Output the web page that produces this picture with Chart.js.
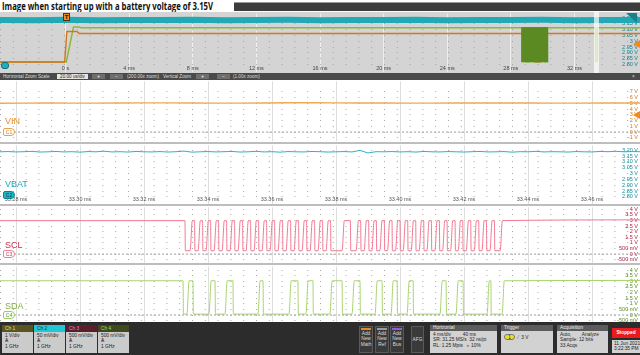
<!DOCTYPE html>
<html><head><meta charset="utf-8">
<script src="https://cdn.jsdelivr.net/npm/chart.js@4.4.1/dist/chart.umd.min.js"></script>
<style>
*{box-sizing:border-box}
html,body{margin:0;padding:0}
body{width:640px;height:355px;overflow:hidden;background:#fff;position:relative;font-family:"Liberation Sans",Arial,sans-serif}
.a{position:absolute}
canvas{position:absolute;left:0;display:block}
#title{left:0;top:0;width:233px;height:12px;background:#fff}
#titleText{position:absolute;left:2px;top:-1px;font:700 10.5px "Open Sans",sans-serif;color:#111;white-space:nowrap;transform-origin:0 0}
#topbar{left:234px;top:2px;width:406px;height:9px;background:#3d3d3d;border-top:1px solid #9a9a9a}
#ov{top:12px;background:#d4d4d4}
#zbar{left:0;top:73px;width:640px;height:7px;background:#4a4a4a;color:#ddd;font-size:4.6px;line-height:7px}
#zbar span{position:absolute;top:0;white-space:nowrap}
#zbar .zb{top:1px;height:5px;line-height:5px;text-align:center;background:#6e6e6e;color:#fff}
.sep{left:0;width:640px;height:2px;background:#bdbdbd}
.lbl{font:9px "Liberation Sans",Arial,sans-serif;white-space:nowrap}
.gnd{position:absolute;left:3px;width:12px;height:8px;border:1px solid;border-radius:2px 4px 4px 2px;font:5px "Liberation Sans",Arial,sans-serif;line-height:6px;text-align:center;background:#fff}
#bot{left:0;top:322px;width:640px;height:33px;background:#2c2c2c;font-size:4.8px;line-height:5.4px}
.ch{position:absolute;top:3px;width:31px;height:28px;background:#cbcbcb;color:#222}
.ch .h{height:7px;padding-left:3px;line-height:7px}
.ch .b{padding-left:3px;padding-top:1px}
.btn{position:absolute;top:4px;width:14px;height:27px;background:#3a3a3a;border:1px solid #5a5a5a;color:#ddd;text-align:center;padding-top:4px}
.btn i{position:absolute;left:1px;right:1px;top:1px;height:2px}
.box{position:absolute;top:3px;height:28px;background:#d2d2d2;color:#222}
.box .h{height:6px;background:#5c5c5c;color:#eee;padding-left:3px;line-height:6px}
.box .b{padding:1px 3px;white-space:nowrap}
</style></head><body>

<div id="title" class="a"><span id="titleText">Image when starting up with a battery voltage of 3.15V</span></div>
<div id="topbar" class="a"></div>

<canvas id="ov" width="640" height="61"></canvas>
<div class="a" style="left:594px;top:12px;width:5px;height:61px;background:rgba(255,255,255,0.7)"></div>
<div class="a" style="left:63px;top:13px;width:7px;height:8px;background:#e8902a;border:1px solid #553300;font:700 6px 'Liberation Sans';line-height:6px;text-align:center;color:#221100">T</div>
<div class="a" style="left:1px;top:62px;width:8px;height:7px;border-radius:3px;background:#1fb0c0;border:1px solid #0c6f7a"></div>
<div class="a" style="left:626px;top:13px;width:0;height:0;border-top:10px solid #1b7f8c;border-left:11px solid transparent"></div>
<div class="a" style="left:633px;top:40px;width:0;height:0;border-right:7px solid #f08a1e;border-top:4px solid transparent;border-bottom:4px solid transparent"></div>

<div id="zbar" class="a">
  <span style="left:3px">Horizontal Zoom Scale</span>
  <span style="left:57px;top:1px;height:5px;line-height:5px;width:31px;background:#e4e4e4;color:#222;text-align:center">20.00 us/div</span>
  <span class="zb" style="left:92px;width:13px">+</span>
  <span class="zb" style="left:110px;width:13px">−</span>
  <span style="left:127px">(200.00x zoom)</span>
  <span style="left:163px">Vertical Zoom</span>
  <span class="zb" style="left:196px;width:13px">+</span>
  <span class="zb" style="left:217px;width:13px">−</span>
  <span style="left:233px">(1.00x zoom)</span>
  <span style="left:632px">×</span>
</div>

<canvas id="vin" width="640" height="62" style="top:80px"></canvas>
<div class="a sep" style="top:142px"></div>
<canvas id="vbat" width="640" height="61" style="top:144px"></canvas>
<div class="a sep" style="top:204px"></div>
<canvas id="scl" width="640" height="58" style="top:206px"></canvas>
<div class="a sep" style="top:263px"></div>
<canvas id="sda" width="640" height="58" style="top:265px"></canvas>

<div class="a" style="left:633px;top:111px;width:0;height:0;border-right:7px solid #f08a1e;border-top:4px solid transparent;border-bottom:4px solid transparent"></div>

<div class="a lbl" style="left:5px;top:116px;color:#e8902a">VIN</div>
<div class="gnd" style="top:128px;border-color:#e8a050;color:#d07818">C1</div>
<div class="a lbl" style="left:5px;top:179px;color:#1fa8b8">VBAT</div>
<div class="gnd" style="top:191px;border-color:#0f7f8c;background:#1fb8c8;color:#033">C2</div>
<div class="a lbl" style="left:5px;top:240px;color:#c8304c">SCL</div>
<div class="gnd" style="top:250px;border-color:#e88098;color:#c8304c">C3</div>
<div class="a lbl" style="left:5px;top:301px;color:#7cb23a">SDA</div>
<div class="gnd" style="top:311px;border-color:#9ccc60;color:#5a8a20">C4</div>

<div id="bot" class="a">
  <div class="ch" style="left:2px"><div class="h" style="background:#5a5420;color:#f0e070">Ch 1</div><div class="b">1 V/div<br>Ѧ<br>1 GHz</div></div>
  <div class="ch" style="left:34px"><div class="h" style="background:#22c6d6;color:#063c44">Ch 2</div><div class="b">50 mV/div<br>Ѧ<br>1 GHz</div></div>
  <div class="ch" style="left:66px"><div class="h" style="background:#5a1e2c;color:#f090a0">Ch 3</div><div class="b">500 mV/div<br>Ѧ<br>1 GHz</div></div>
  <div class="ch" style="left:98px"><div class="h" style="background:#3c4a1e;color:#a8d860">Ch 4</div><div class="b">500 mV/div<br>Ѧ<br>1 GHz</div></div>
  <div class="btn" style="left:359px"><i style="background:#e08a30"></i>Add<br>New<br>Math</div>
  <div class="btn" style="left:375px"><i style="background:#9a9a9a"></i>Add<br>New<br>Ref</div>
  <div class="btn" style="left:390px"><i style="background:#9a5ad0"></i>Add<br>New<br>Bus</div>
  <div class="btn" style="left:411px;width:13px;padding-top:10px">AFG</div>
  <div class="box" style="left:430px;width:67px"><div class="h">Horizontal</div><div class="b">4 ms/div &nbsp;&nbsp;&nbsp;&nbsp;&nbsp;&nbsp;&nbsp;&nbsp;40 ms<br>SR: 31.25 MS/s &nbsp;32 ns/pt<br>RL: 1.25 Mpts &nbsp;&nbsp;<span style="color:#e07000">●</span> 10%</div></div>
  <div class="box" style="left:501px;width:52px"><div class="h">Trigger</div><div class="b" style="padding-top:3px"><span style="display:inline-block;width:11px;height:6px;border-radius:3px;background:#e8e020;border:1px solid #777;text-align:center;line-height:5px">1</span> &nbsp;<span style="color:#555">⁄</span> &nbsp;3 V</div></div>
  <div class="box" style="left:557px;width:51px"><div class="h">Acquisition</div><div class="b">Auto, &nbsp;&nbsp;&nbsp;&nbsp;&nbsp;&nbsp;&nbsp;Analyze<br>Sample: 12 bits<br>33 Acqs</div></div>
  <div class="a" style="left:612px;top:6px;width:28px;height:10px;background:#e81c1c;color:#fff;font-weight:700;text-align:center;line-height:10px">Stopped</div>
  <div class="a" style="left:612px;top:18px;width:28px;height:13px;background:#d2d2d2;color:#222;padding:1px 2px;white-space:nowrap">11 Jun 2021<br>3:22:35 PM</div>
</div>

<script>
// ================= DATA =================
// detail panels: time in microseconds after 33.28 ms
const timeTickValues = [0, 20, 40, 60, 80, 100, 120, 140, 160, 180];
const timeTickLabels = ['33.28 ms','33.30 ms','33.32 ms','33.34 ms','33.36 ms','33.38 ms','33.40 ms','33.42 ms','33.44 ms','33.46 ms'];
// overview: time in milliseconds
const overviewTickValues = [0, 4, 8, 12, 16, 20, 24, 28, 32];
const overviewTickLabels = ['0 s','4 ms','8 ms','12 ms','16 ms','20 ms','24 ms','28 ms','32 ms'];

const vinTickValues = [7, 6, 5, 4, 3, 2, 1, 0, -1];
const vinTickLabels = ['7 V','6 V','5 V','4 V','3 V','2 V','1 V','0 V','-1 V'];
const vbatTickValues = [3.20, 3.15, 3.10, 3.05, 3.00, 2.95, 2.90, 2.85, 2.80];
const vbatTickLabels = ['3.20 V','3.15 V','3.10 V','3.05 V','3 V','2.95 V','2.90 V','2.85 V','2.80 V'];
const busTickValues = [4, 3.5, 3, 2.5, 2, 1.5, 1, 0.5, 0, -0.5];
const busTickLabels = ['4 V','3.5 V','3 V','2.5 V','2 V','1.5 V','1 V','500 mV','0 V','-500 mV'];

// VIN (Ch1) detail trace
const vinTimes = [-5, 10, 25, 40, 55, 70, 85, 100, 115, 130, 145, 160, 175, 195];
const vinVolts = [5.02, 5.05, 5.03, 5.08, 5.06, 5.04, 5.10, 5.08, 5.05, 5.03, 5.07, 5.05, 5.04, 5.07];

// VBAT (Ch2) detail trace, one sample every 2.5 us starting at -5 us
const vbatStartUs = -5, vbatStepUs = 2.5;
const vbatVolts = [
 3.186,3.188,3.185,3.187,3.190,3.184,3.186,3.189,3.185,3.187,
 3.183,3.188,3.186,3.191,3.185,3.187,3.184,3.189,3.186,3.185,
 3.188,3.184,3.187,3.192,3.183,3.186,3.188,3.185,3.187,3.189,
 3.184,3.186,3.190,3.185,3.187,3.183,3.188,3.186,3.185,3.189,
 3.187,3.184,3.186,3.188,3.185,3.198,3.176,3.187,3.186,3.188,
 3.185,3.187,3.184,3.189,3.186,3.185,3.188,3.186,3.184,3.187,
 3.189,3.185,3.186,3.188,3.183,3.187,3.186,3.190,3.185,3.187,
 3.186,3.184,3.188,3.186,3.185,3.189,3.187,3.190,3.186,3.188,3.187];

// SCL (Ch3): edge times (us), trace starts high and toggles at each edge
const sclHighV = 2.98, sclLowV = 0.30, sclEndV = 3.05;
const sclEdges = [52.8,
 54.4,55.8, 56.9,58.3, 59.4,60.8, 61.9,63.3, 64.4,65.8, 66.9,68.3, 69.4,70.8, 71.9,73.3, 74.4,75.8,
 76.9,78.3, 79.4,80.8, 81.9,83.3, 84.4,85.8, 86.9,88.3, 89.4,90.8, 91.9,93.3, 94.4,95.8, 96.9,98.3,
 101.9,104.5,
 106.3,107.7, 108.8,110.2, 111.2,112.6, 113.7,115.1, 116.1,117.5, 118.6,120.0, 121.0,122.4, 123.5,124.9,
 126.0,127.4, 128.4,129.8, 130.9,132.3, 133.3,134.7, 135.8,137.2, 138.2,139.6, 140.7,142.1, 143.2,144.6,
 145.6,147.0, 148.1,149.5,
 151.3];

// SDA (Ch4): edge times (us), trace starts high and toggles at each edge
const sdaHighV = 3.05, sdaLowV = 0.08, sdaEndV = 3.08;
const sdaEdges = [52.2, 53.4, 55.3, 60.3, 62.2, 65.3, 67.8, 75.6, 77.2, 85.3, 88.1, 90.6, 92.8,
 98.1, 101.9, 105.0, 107.5, 112.2, 114.4, 117.2, 119.1, 122.2, 124.1, 132.5, 134.4, 137.5, 139.7,
 147.2, 148.4, 151.9];

// Overview (ms)
const ovVbatT = [-4.12,-2,0,2,4,6,8,10,12,14,16,18,20,22,24,26,28,30,32,34,36.12];
const ovVbatV = [3.184,3.182,3.185,3.181,3.184,3.183,3.186,3.182,3.184,3.185,3.181,3.184,3.183,3.186,3.182,3.184,3.183,3.185,3.182,3.184,3.183];
const ovVinT = [-4.12, -0.05, 0.08, 0.72, 0.85, 36.12];
const ovVinV = [0.02, 0.02, 5.33, 5.33, 5.00, 5.00];
const ovSdaT = [-4.12, 0.05, 0.50, 0.80, 1.00, 33.33, 33.335, 33.43, 33.435, 36.12];
const ovSdaV = [0.02, 0.02, 3.10, 3.10, 3.05, 3.05, 0.05, 0.05, 3.05, 3.05];
const ovBurstT = [28.68, 28.68, 30.31, 30.31];
const ovBurstV = [0, 3.05, 3.05, 0];
const ovSdaStripeT = [28.80, 28.95, 29.25, 29.40, 29.62, 29.78, 29.95, 30.10, 30.22];
const ovSclStripeT = [28.90, 29.50, 29.90, 30.20];

// ================= BUILD =================
Chart.defaults.font.family = '"Liberation Sans", Arial, sans-serif';
const zip = (xs, ys) => xs.map((x, i) => ({x, y: ys[i]}));
function edgesToPoints(edges, hi, lo, t0, t1, endV) {
  const pts = [{x: t0, y: hi}];
  let high = true;
  edges.forEach(t => {
    if (high) { pts.push({x: t, y: hi}, {x: t + 0.12, y: lo}); }
    else { pts.push({x: t, y: lo}, {x: t + 0.7, y: hi}); }
    high = !high;
  });
  pts.push({x: t1, y: endV});
  return pts;
}
function zigzag(ts, top) {
  const pts = []; let up = false;
  ts.forEach(t => { if (up) { pts.push({x:t,y:top},{x:t,y:0}); } else { pts.push({x:t,y:0},{x:t,y:top}); } up = !up; });
  return pts;
}
const fixTicks = vals => axis => { axis.ticks = vals.map(v => ({value: v})); };
const common = {
  responsive: false, animation: false, events: [],
  layout: {padding: 0},
  plugins: {legend: {display: false}, tooltip: {enabled: false}},
  elements: {point: {radius: 0}, line: {borderJoinStyle: 'round'}}
};
const TX0 = -5, TX1 = 195;

function xScale(labels, gridColor) {
  return {
    type: 'linear', min: TX0, max: TX1, position: 'bottom',
    afterBuildTicks: fixTicks(timeTickValues),
    afterFit: a => { a.height = 0; },
    grid: {color: gridColor, drawTicks: false, lineWidth: 1},
    border: {display: false},
    ticks: {display: !!labels, mirror: true, padding: 1, color: '#555', font: {size: 5.5}, maxRotation: 0, autoSkip: false,
      callback: (v, i) => labels ? labels[i] : ''}
  };
}
function yScale(min, max, vals, labels, color) {
  return {
    type: 'linear', min, max, position: 'right',
    afterBuildTicks: fixTicks(vals),
    afterFit: a => { a.width = 0; },
    grid: {color: 'rgba(0,0,0,0.35)', drawTicks: false, lineWidth: 1},
    border: {display: false, dash: [1, 11.8]},
    ticks: {mirror: true, padding: -2, color, font: {size: 5.5}, autoSkip: false, callback: (v, i) => labels[i]}
  };
}
function gndLine() {
  return {data: [{x: -0.6, y: 0}, {x: TX1, y: 0}], borderColor: '#9a9a9a', borderWidth: 1, borderDash: [2, 2]};
}

// VIN panel
new Chart(document.getElementById('vin'), {type: 'line', data: {datasets: [
  gndLine(),
  {data: zip(vinTimes, vinVolts), borderColor: '#f0a850', borderWidth: 1.4, tension: 0.4}
]}, options: {...common, scales: {x: xScale(null, '#dedede'), y: yScale(-1.5, 8.833, vinTickValues, vinTickLabels, '#d07818')}}});

// VBAT panel
new Chart(document.getElementById('vbat'), {type: 'line', data: {datasets: [
  {data: vbatVolts.map((v, i) => ({x: vbatStartUs + i * vbatStepUs, y: v})), borderColor: '#2ab4c4', borderWidth: 1}
]}, options: {...common, scales: {x: xScale(timeTickLabels, '#dedede'), y: yScale(2.7417, 3.2417, vbatTickValues, vbatTickLabels, '#158c9a')}}});

// SCL panel
new Chart(document.getElementById('scl'), {type: 'line', data: {datasets: [
  gndLine(),
  {data: edgesToPoints(sclEdges, sclHighV, sclLowV, TX0, TX1, sclEndV), borderColor: '#f07892', borderWidth: 1, cubicInterpolationMode: 'monotone'}
]}, options: {...common, scales: {x: xScale(null, '#dedede'), y: yScale(-0.766, 4.170, busTickValues, busTickLabels, '#b02040')}}});

// SDA panel
new Chart(document.getElementById('sda'), {type: 'line', data: {datasets: [
  gndLine(),
  {data: edgesToPoints(sdaEdges, sdaHighV, sdaLowV, TX0, TX1, sdaEndV), borderColor: '#a6d46a', borderWidth: 1, cubicInterpolationMode: 'monotone'}
]}, options: {...common, scales: {x: xScale(null, '#dedede'), y: yScale(-0.596, 4.340, busTickValues, busTickLabels, '#5a8a20')}}});

// Overview
new Chart(document.getElementById('ov'), {type: 'line', data: {datasets: [
  {data: zip(ovVbatT, ovVbatV), yAxisID: 'y', borderColor: '#22a9b6', borderWidth: 6},
  {data: zip(ovBurstT, ovBurstV), yAxisID: 'ySda', borderColor: '#5b8a22', borderWidth: 1, fill: 'origin', backgroundColor: '#5b8a22'},
  {data: zigzag(ovSdaStripeT, 3.05), yAxisID: 'ySda', borderColor: '#94c64c', borderWidth: 1},
  {data: zigzag(ovSclStripeT, 3.05), yAxisID: 'ySda', borderColor: '#c8641e', borderWidth: 1},
  {data: zip(ovVinT, ovVinV), yAxisID: 'yVin', borderColor: '#d8761c', borderWidth: 1.5},
  {data: zip(ovSdaT, ovSdaV), yAxisID: 'ySda', borderColor: '#8ab83a', borderWidth: 1.5}
]}, options: {...common, scales: {
  x: {type: 'linear', min: -4.12, max: 36.12, position: 'bottom',
      afterBuildTicks: fixTicks(overviewTickValues), afterFit: a => { a.height = 0; },
      grid: {color: 'rgba(255,255,255,0.6)', drawTicks: false}, border: {display: false},
      ticks: {mirror: true, padding: 0, color: '#444', font: {size: 5.5}, maxRotation: 0, autoSkip: false,
        callback: (v, i) => overviewTickLabels[i]}},
  y: {type: 'linear', min: 2.7372, max: 3.2413, position: 'right',
      afterBuildTicks: fixTicks(vbatTickValues), afterFit: a => { a.width = 0; },
      grid: {color: 'rgba(90,90,90,0.4)', drawTicks: false}, border: {display: false, dash: [1, 11.8]},
      ticks: {mirror: true, padding: -2, color: '#137f8c', font: {size: 5.5}, autoSkip: false, callback: (v, i) => vbatTickLabels[i]}},
  yVin: {type: 'linear', min: -1.667, max: 8.5, display: false},
  ySda: {type: 'linear', min: -0.847, max: 4.322, display: false}
}}});

// fit title width to the reference
const tt = document.getElementById('titleText');
const w = tt.getBoundingClientRect().width;
tt.style.transform = 'scaleX(' + (211 / w) + ')';
</script>
</body></html>
